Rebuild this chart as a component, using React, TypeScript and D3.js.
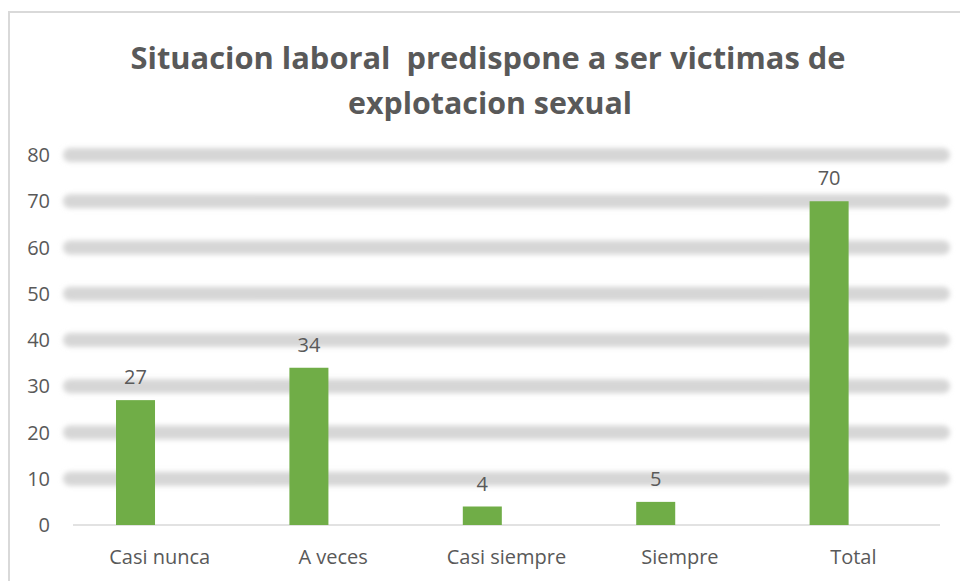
import React from "react";
import * as d3 from "d3";

const categories = ["Casi nunca", "A veces", "Casi siempre", "Siempre", "Total"];
const values = [27, 34, 4, 5, 70];
const yTicks = [0, 10, 20, 30, 40, 50, 60, 70, 80];
const titleLines = ["Situacion laboral  predispone a ser victimas de", "explotacion sexual"];

const W = 960;
const H = 581;
const plotLeft = 73;
const plotRight = 940;
const plotTop = 155;
const plotBottom = 525;

export default function App() {
  const x = d3.scaleBand<string>().domain(categories).range([plotLeft, plotRight]).paddingInner(0).paddingOuter(0);
  const y = d3.scaleLinear().domain([0, 80]).range([plotBottom, plotTop]);
  const bw = x.bandwidth();
  const barOffset = bw * 0.248;
  const barW = bw * 0.225;
  const textColor = "#595959";
  const font = "'Open Sans', 'Noto Sans', sans-serif";

  return (
    <svg
      width={W}
      height={H}
      style={{ position: "absolute", left: 0, top: 0, background: "#fff" }}
    >
      <defs>
        <filter id="blur" x="-5%" y="-300%" width="110%" height="700%">
          <feGaussianBlur stdDeviation="2.8" />
        </filter>
      </defs>
      {/* chart border */}
      <path d={`M9,${H} L9,12 L${W},12`} fill="none" stroke="#d9d9d9" strokeWidth={2} />

      {/* title */}
      <text
        x={488}
        y={69}
        textAnchor="middle"
        fontFamily={font}
        fontWeight={700}
        fontSize={31}
        fill={textColor}
        textLength={715}
        lengthAdjust="spacingAndGlyphs"
        style={{ whiteSpace: "pre" }}
      >
        {titleLines[0]}
      </text>
      <text
        x={490}
        y={114}
        textAnchor="middle"
        fontFamily={font}
        fontWeight={700}
        fontSize={31}
        fill={textColor}
        textLength={284}
        lengthAdjust="spacingAndGlyphs"
      >
        {titleLines[1]}
      </text>

      {/* gridlines */}
      <g filter="url(#blur)">
        {yTicks.filter((t) => t > 0).map((t) => (
          <line
            key={t}
            x1={plotLeft - 3}
            x2={plotRight + 3}
            y1={y(t)}
            y2={y(t)}
            stroke="#d6d6d6"
            strokeWidth={14}
            strokeLinecap="round"
          />
        ))}
      </g>
      <line x1={plotLeft} x2={plotRight} y1={plotBottom} y2={plotBottom} stroke="#d9d9d9" strokeWidth={1.5} />

      {/* y tick labels */}
      {yTicks.map((t) => (
        <text
          key={t}
          x={50}
          y={y(t)}
          dy="0.35em"
          textAnchor="end"
          fontFamily={font}
          fontSize={20}
          fill={textColor}
        >
          {t}
        </text>
      ))}

      {/* bars */}
      {categories.map((c, i) => (
        <rect
          key={c}
          x={(x(c) as number) + barOffset}
          y={y(values[i])}
          width={barW}
          height={plotBottom - y(values[i])}
          fill="#70AD47"
        />
      ))}

      {/* value labels */}
      {categories.map((c, i) => (
        <text
          key={c}
          x={(x(c) as number) + barOffset + barW / 2}
          y={y(values[i]) - 23}
          dy="0.35em"
          textAnchor="middle"
          fontFamily={font}
          fontSize={20}
          fill={textColor}
        >
          {values[i]}
        </text>
      ))}

      {/* category labels */}
      {categories.map((c) => (
        <text
          key={c}
          x={(x(c) as number) + bw / 2}
          y={557}
          dy="0.35em"
          textAnchor="middle"
          fontFamily={font}
          fontSize={20}
          fill={textColor}
        >
          {c}
        </text>
      ))}
    </svg>
  );
}
